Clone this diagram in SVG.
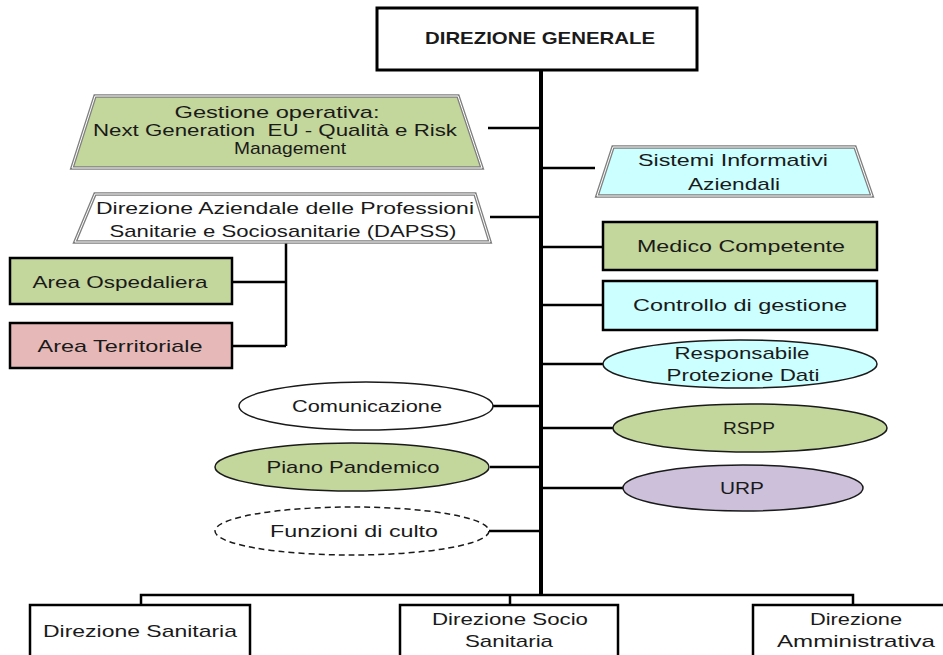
<svg xmlns="http://www.w3.org/2000/svg" width="943" height="655" viewBox="0 0 943 655">
<style>
text{font-family:"Liberation Sans","Open Sans",sans-serif;font-size:17px;fill:#1a1a1a;text-anchor:middle;dominant-baseline:central}
.conn{stroke:#000;stroke-width:2.5;fill:none}
.main{stroke:#000;stroke-width:4;fill:none}
.box{stroke:#000;stroke-width:2.5}
.trap{stroke:#7f7f7f;stroke-width:3.5}
.trapin{stroke:#fff;stroke-width:1;fill:none}
.ell{stroke:#1a1a1a;stroke-width:1.5}
.green{fill:#c3d69b}
.cyan{fill:#ccffff}
.pink{fill:#e6b9b8}
.lav{fill:#ccc0da}
.white{fill:#fff}
</style>
<rect width="943" height="655" fill="#fff"/>
<g id="connectors">
<path class="main" d="M541 70V595"/>
<path class="conn" d="M141 605V595H853V605M510 595V605"/>
<path class="conn" d="M488 128H541M541 168H595M490 217H541M541 247H603M541 305H603M541 364H603M541 428H613M541 488H623M493 406H541M490 467H541M489 531H541"/>
<path class="conn" d="M286 243V346M232 282H286M232 346H286"/>
</g>
<g id="direzione-generale">
<rect x="377" y="8" width="320" height="62" fill="#fff" stroke="#000" stroke-width="3"/>
<text x="540" y="38" style="font-weight:bold" textLength="230" lengthAdjust="spacingAndGlyphs">DIREZIONE GENERALE</text>
</g>
<g id="gestione-operativa">
<path class="trap green" d="M95 96H458L482 168H72Z"/>
<path class="trapin" d="M95 96H458L482 168H72Z"/>
<text x="277" y="112" textLength="205" lengthAdjust="spacingAndGlyphs">Gestione operativa:</text>
<text x="275" y="130" textLength="364" lengthAdjust="spacingAndGlyphs">Next Generation&#160; EU - Qualità e Risk</text>
<text x="290" y="148" textLength="112" lengthAdjust="spacingAndGlyphs">Management</text>
</g>
<g id="sistemi-informativi">
<path class="trap cyan" d="M613 147H855L872 196H597Z"/>
<path class="trapin" d="M613 147H855L872 196H597Z"/>
<text x="733" y="160" textLength="190" lengthAdjust="spacingAndGlyphs">Sistemi Informativi</text>
<text x="734" y="184" textLength="92" lengthAdjust="spacingAndGlyphs">Aziendali</text>
</g>
<g id="dapss">
<path class="trap white" d="M95 194H475L490 242H75Z"/>
<path class="trapin" d="M95 194H475L490 242H75Z"/>
<text x="285" y="208" textLength="378" lengthAdjust="spacingAndGlyphs">Direzione Aziendale delle Professioni</text>
<text x="283" y="231" textLength="347" lengthAdjust="spacingAndGlyphs">Sanitarie e Sociosanitarie (DAPSS)</text>
</g>
<g id="area-ospedaliera">
<rect class="box green" x="10" y="258" width="222" height="46"/>
<text x="120" y="282" textLength="175" lengthAdjust="spacingAndGlyphs">Area Ospedaliera</text>
</g>
<g id="area-territoriale">
<rect class="box pink" x="10" y="323" width="222" height="45"/>
<text x="120" y="346" textLength="165" lengthAdjust="spacingAndGlyphs">Area Territoriale</text>
</g>
<g id="medico-competente">
<rect class="box green" x="603" y="222" width="274" height="48"/>
<text x="741" y="246" textLength="208" lengthAdjust="spacingAndGlyphs">Medico Competente</text>
</g>
<g id="controllo-gestione">
<rect class="box cyan" x="603" y="281" width="274" height="49"/>
<text x="740" y="305" textLength="214" lengthAdjust="spacingAndGlyphs">Controllo di gestione</text>
</g>
<g id="protezione-dati">
<ellipse class="ell cyan" cx="740" cy="364" rx="137" ry="24"/>
<text x="742" y="353" textLength="135" lengthAdjust="spacingAndGlyphs">Responsabile</text>
<text x="743" y="375" textLength="153" lengthAdjust="spacingAndGlyphs">Protezione Dati</text>
</g>
<g id="comunicazione">
<ellipse class="ell white" cx="366" cy="406" rx="127" ry="24"/>
<text x="367" y="406" textLength="150" lengthAdjust="spacingAndGlyphs">Comunicazione</text>
</g>
<g id="rspp">
<ellipse class="ell green" cx="750" cy="428" rx="137" ry="24"/>
<text x="749" y="428" textLength="52" lengthAdjust="spacingAndGlyphs">RSPP</text>
</g>
<g id="piano-pandemico">
<ellipse class="ell green" cx="352" cy="467" rx="137" ry="24"/>
<text x="353" y="467" textLength="173" lengthAdjust="spacingAndGlyphs">Piano Pandemico</text>
</g>
<g id="urp">
<ellipse class="ell lav" cx="743" cy="488" rx="120" ry="23"/>
<text x="742" y="488" textLength="44" lengthAdjust="spacingAndGlyphs">URP</text>
</g>
<g id="funzioni-culto">
<ellipse class="ell white" cx="352" cy="531" rx="137" ry="24" stroke-dasharray="6 4"/>
<text x="354" y="531" textLength="168" lengthAdjust="spacingAndGlyphs">Funzioni di culto</text>
</g>
<g id="direzione-sanitaria">
<rect class="box white" x="30" y="605" width="220" height="60"/>
<text x="140" y="631" textLength="194" lengthAdjust="spacingAndGlyphs">Direzione Sanitaria</text>
</g>
<g id="direzione-socio-sanitaria">
<rect class="box white" x="400" y="605" width="218" height="60"/>
<text x="510" y="619" textLength="156" lengthAdjust="spacingAndGlyphs">Direzione Socio</text>
<text x="509" y="641" textLength="88" lengthAdjust="spacingAndGlyphs">Sanitaria</text>
</g>
<g id="direzione-amministrativa">
<rect class="box white" x="753" y="605" width="220" height="60"/>
<text x="856" y="619" textLength="92" lengthAdjust="spacingAndGlyphs">Direzione</text>
<text x="856" y="641" textLength="158" lengthAdjust="spacingAndGlyphs">Amministrativa</text>
</g>
</svg>
